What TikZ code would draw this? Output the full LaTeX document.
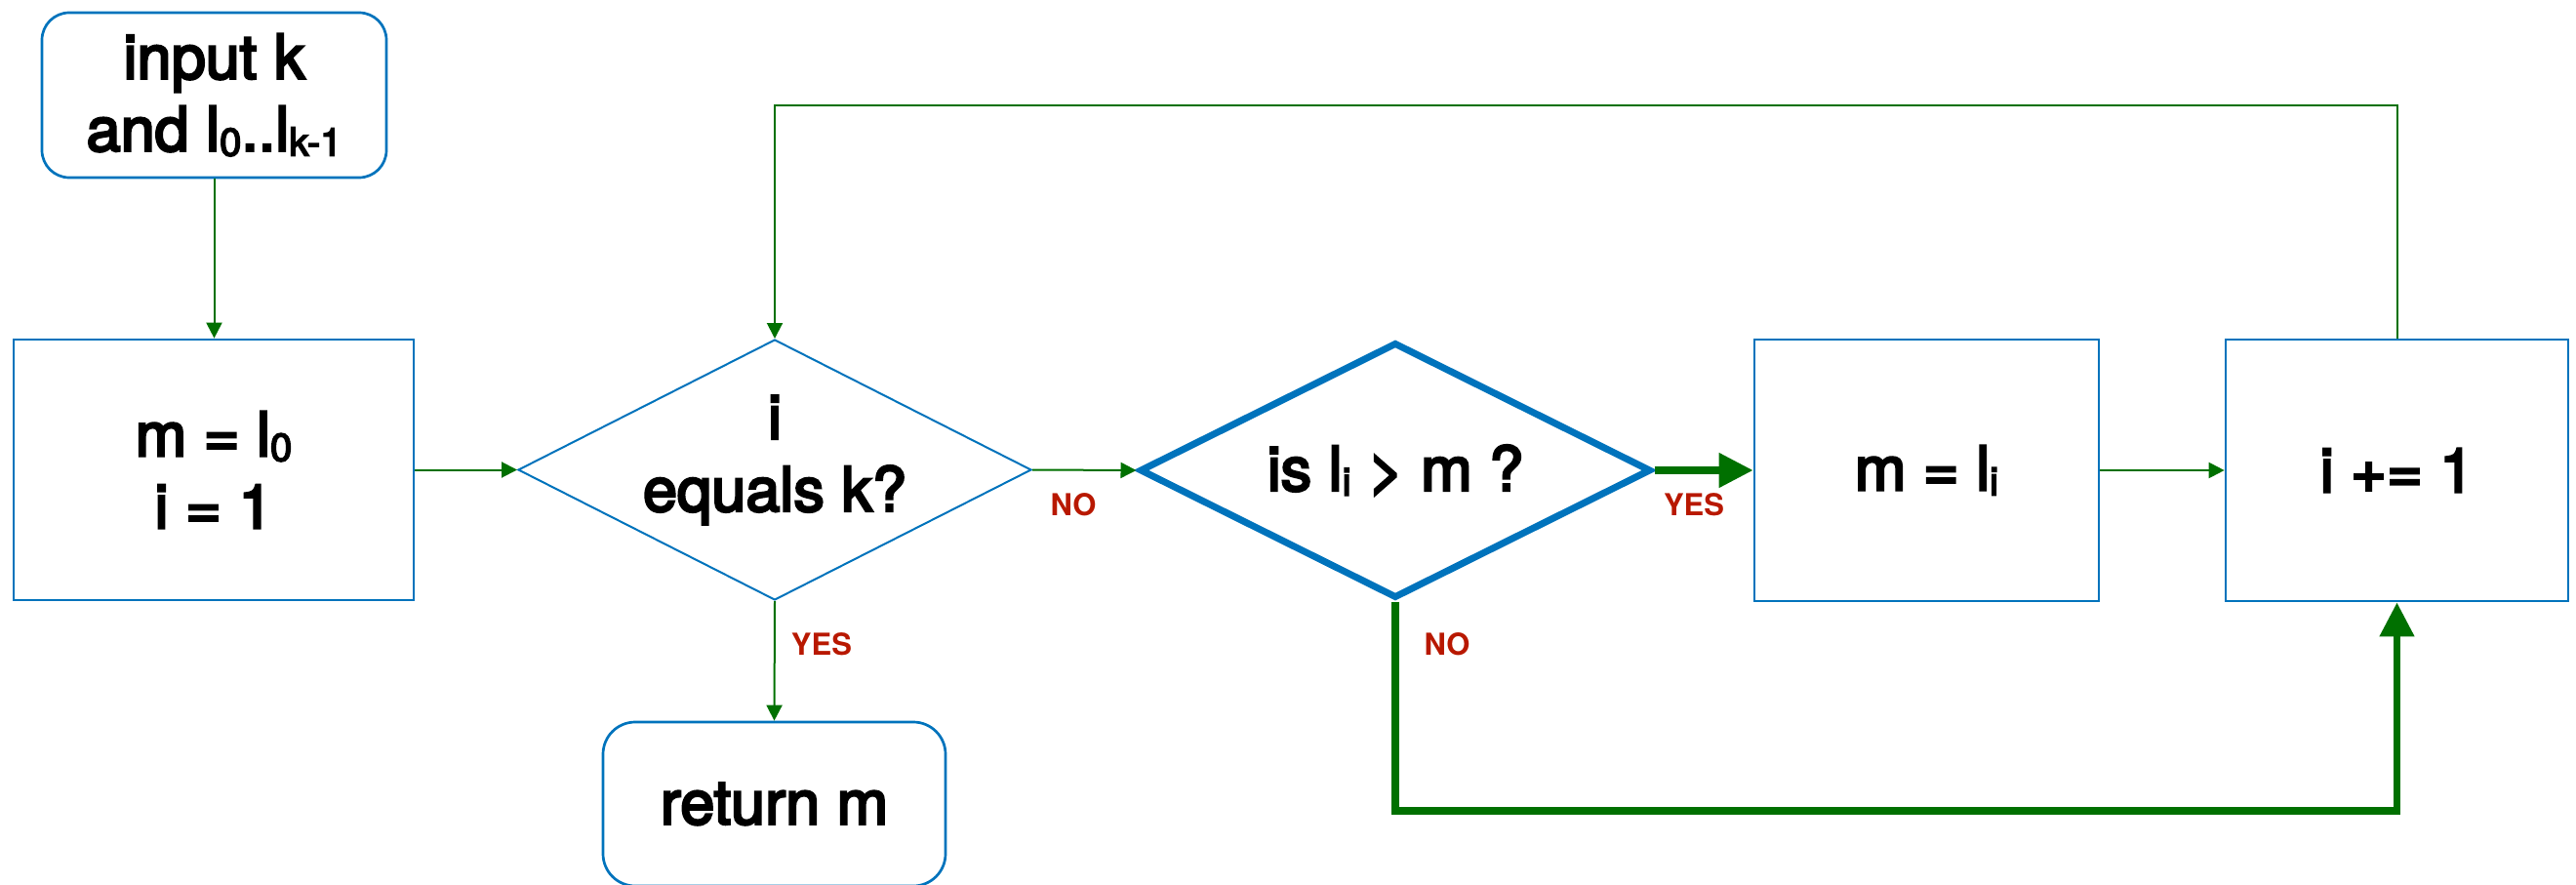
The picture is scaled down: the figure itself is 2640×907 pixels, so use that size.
\documentclass[tikz,border=0pt]{standalone}
\usepackage{fontspec}
\setmainfont{TeX Gyre Heros}
\newfontfamily\medfont{TeX Gyre Heros}[FakeBold=4]
\usetikzlibrary{arrows.meta,shapes.geometric}
\definecolor{boxblue}{RGB}{0,115,188}
\definecolor{arrgreen}{RGB}{0,112,0}
\definecolor{labred}{RGB}{184,24,0}
\newcommand{\lsub}[1]{\raisebox{-5pt}{\fontsize{40}{40}\selectfont #1}}
\begin{document}
\begin{tikzpicture}[x=1pt,y=-1pt,
  maintext/.style={font=\medfont\fontsize{63}{74}\selectfont, align=center, inner sep=0pt},
  procbox/.style={draw=boxblue, line width=2.7pt, rectangle, maintext},
  termbox/.style={procbox, rounded corners=#1},
  decision/.style={draw=boxblue, diamond, inner sep=0pt},
  thinarrow/.style={draw=arrgreen, line width=2pt, -{Triangle[length=16pt,width=16pt]}},
  thickarrow/.style={draw=arrgreen, line width=7.5pt, -{Triangle[length=35pt,width=34pt]}},
  lab/.style={font=\fontsize{31}{31}\selectfont\bfseries, text=labred, inner sep=0pt}
  ]
\useasboundingbox (0,0) rectangle (2640,907);

% nodes
\node[termbox=28pt, minimum width=353pt, minimum height=169pt] (input) at (219.5,97.5)
  {input k\\and l\lsub{0}..l\lsub{k-1}};
\node[procbox, minimum width=410pt, minimum height=267pt] (m0) at (219,481.5)
  {m = l\lsub{0}\\i = 1};
\node[decision, line width=2pt, minimum width=526pt, minimum height=267pt] (d1) at (794,481.5) {};
\node[maintext, yshift=10pt] (d1text) at (d1.center) {i\\equals k?};
\node[decision, line width=7pt, minimum width=524pt, minimum height=262pt] (d2) at (1430,482) {};
\node[maintext] (d2text) at (d2.center) {is l\lsub{i} > m ?};
\node[procbox, minimum width=353pt, minimum height=268pt] (mi) at (1974.5,482) {m = l\lsub{i}};
\node[procbox, minimum width=351pt, minimum height=268pt] (inc) at (2456.5,482) {i += 1};
\node[termbox=33pt, minimum width=351pt, minimum height=168pt] (ret) at (793.5,824) {return m};

\coordinate (looptop) at (0,108);
\coordinate (botline) at (0,831);

% connectors
\draw[thinarrow] (input.south) -- (input.south |- m0.north);
\draw[thinarrow] (m0.east) -- (d1.west);
\draw[thinarrow] (d1.east) -- (d2.west);
\draw[thickarrow] (d2.east) -- (mi.west);
\draw[thinarrow] (mi.east) -- (inc.west);
\draw[thinarrow] (inc.north) -- (inc.north |- looptop) -| (d1.north);
\draw[thinarrow] (d1.south) -- (ret.north);
\draw[thickarrow] (d2.south) -- (d2.south |- botline) -| (inc.south);

% labels
\node[lab] (lno1) at (1100,517) {NO};
\node[lab] (lyes1) at (1736,517) {YES};
\node[lab] (lno2) at (1483,660) {NO};
\node[lab] (lyes2) at (842,660) {YES};
\end{tikzpicture}
\end{document}
